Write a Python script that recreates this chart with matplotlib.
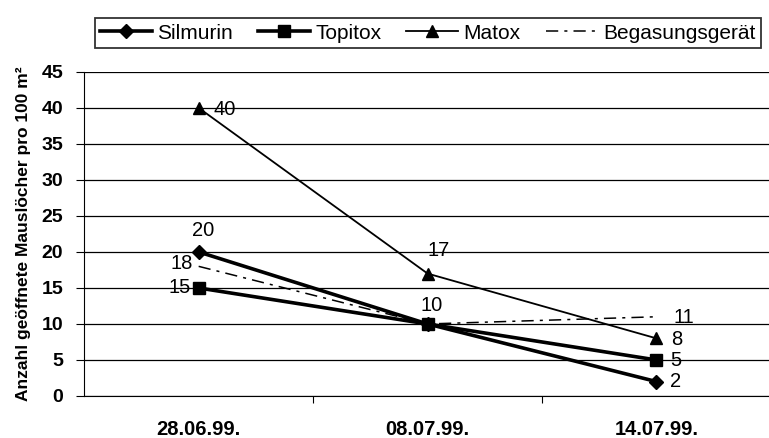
import matplotlib.pyplot as plt

plt.rcParams['font.family'] = ['Liberation Sans', 'DejaVu Sans']

dates = ["28.06.99.", "08.07.99.", "14.07.99."]
silmurin = [20, 10, 2]
topitox = [15, 10, 5]
matox = [40, 17, 8]
begasung = [18, 10, 11]

fig = plt.figure(figsize=(7.69, 4.38), dpi=100)
ax = fig.add_axes([0.1095, 0.0959, 0.893, 0.740])

x = range(len(dates))
ax.plot(x, silmurin, color='black', lw=2.6, marker='D', ms=7, label='Silmurin')
ax.plot(x, topitox, color='black', lw=2.6, marker='s', ms=8, label='Topitox')
ax.plot(x, matox, color='black', lw=1.3, marker='^', ms=8, label='Matox')
ax.plot(x, begasung, color='black', lw=1.1, dashes=(8, 4, 2, 4), label='Begasungsgerät')

fs = 14.5
# data labels, (x offset, y position, alignment)
ax.text(0.02, 23, "20", ha='center', va='center', fontsize=fs)
ax.text(0.066, 39.8, "40", ha='left', va='center', fontsize=fs)
ax.text(-0.026, 18.4, "18", ha='right', va='center', fontsize=fs)
ax.text(-0.035, 15, "15", ha='right', va='center', fontsize=fs)
ax.text(1.018, 12.6, "10", ha='center', va='center', fontsize=fs)
ax.text(1.05, 20.2, "17", ha='center', va='center', fontsize=fs)
ax.text(2.075, 10.9, "11", ha='left', va='center', fontsize=fs)
ax.text(2.066, 7.8, "8", ha='left', va='center', fontsize=fs)
ax.text(2.06, 4.9, "5", ha='left', va='center', fontsize=fs)
ax.text(2.057, 1.95, "2", ha='left', va='center', fontsize=fs)

ax.set_xlim(-0.5, 2.5)
ax.set_ylim(0, 45)
ax.set_yticks(range(0, 46, 5))
ax.set_xticks([0.5, 1.5])
ax.set_xticks(list(x), minor=True)
ax.set_xticklabels([])
ax.set_xticklabels(dates, minor=True, fontsize=14.5, fontweight='bold')
ax.tick_params(axis='x', which='minor', length=0, pad=17)
ax.tick_params(axis='x', which='major', length=5, direction='out')
ax.tick_params(axis='y', length=6, direction='out', labelsize=14, pad=9)
for lab in ax.get_yticklabels():
    lab.set_fontweight('bold')
ax.grid(axis='y', color='black', lw=0.9)
ax.spines['top'].set_visible(False)
ax.spines['right'].set_visible(False)
ax.set_ylabel("Anzahl geöffnete Mauslöcher pro 100 m²", fontsize=12.5, fontweight='bold', labelpad=8)

leg = fig.legend(loc='upper center', bbox_to_anchor=(0.556, 0.982), ncol=4, frameon=True,
                 fancybox=False, edgecolor='black', prop={'size': 15},
                 handlelength=2.5, handletextpad=0.25, columnspacing=1.2, borderpad=0.25)
leg.get_frame().set_linewidth(1.3)

fig.savefig("out.png", dpi=100)
